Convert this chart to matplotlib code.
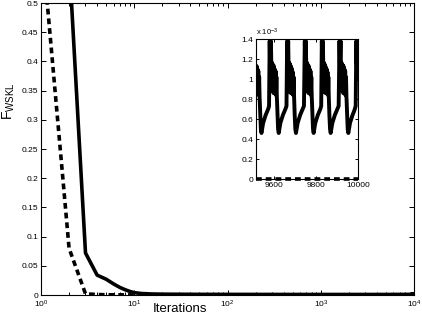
import numpy as np
import matplotlib.pyplot as plt
from matplotlib.ticker import LogLocator, FixedLocator

plt.rcParams['font.family'] = ['Liberation Sans', 'DejaVu Sans']
plt.rcParams['mathtext.default'] = 'regular'

# -------------------------
# Data
# -------------------------
# early iterations (main axes)
iters_early = [1, 2, 3, 4, 5, 6, 7, 8, 9, 10, 12, 15, 20, 30, 50,
               100, 200, 500, 1000, 2000, 5000]
solid_early = [1.35, 0.575, 0.072, 0.034, 0.027, 0.019, 0.013, 0.009,
               0.006, 0.004, 0.0025, 0.0018, 0.0014, 0.0012, 0.0011,
               0.0010, 0.0010, 0.0009, 0.0009, 0.0009, 0.0009]
dashed_early = [0.62, 0.08, 0.002, 0.0008, 0.0004, 0.0003, 0.0002,
                0.0001, 0.0001, 0.0001, 0.0, 0.0, 0.0, 0.0, 0.0,
                0.0, 0.0, 0.0, 0.0, 0.0, 0.0]

# last iterations (inset), values in units of 1e-3, one row per cycle
iters_late = [
    9515, 9516, 9518, 9520, 9522, 9524, 9526, 9528, 9530, 9532, 9535,
    9538, 9541, 9544, 9549, 9555, 9561, 9567, 9573, 9577, 9580, 9582,
    9586, 9588, 9590, 9592, 9594, 9596, 9598, 9600, 9602, 9604, 9606,
    9608, 9610, 9612, 9614, 9617, 9620, 9623, 9626, 9631, 9637, 9643,
    9649, 9655, 9660, 9663, 9665,
    9668, 9670, 9672, 9674, 9676, 9678, 9680, 9682, 9684, 9686, 9688,
    9690, 9692, 9694, 9696, 9699, 9702, 9705, 9708, 9713, 9719, 9725,
    9731, 9737, 9743, 9747, 9749,
    9752, 9754, 9756, 9758, 9760, 9762, 9764, 9766, 9768, 9770, 9772,
    9774, 9776, 9778, 9780, 9783, 9786, 9789, 9792, 9797, 9803, 9809,
    9815, 9821, 9825, 9828, 9830,
    9833, 9835, 9837, 9839, 9841, 9843, 9845, 9847, 9849, 9851, 9853,
    9855, 9857, 9859, 9861, 9864, 9867, 9870, 9873, 9878, 9884, 9890,
    9896, 9902, 9908, 9912, 9914,
    9917, 9919, 9921, 9923, 9925, 9927, 9929, 9931, 9933, 9935, 9937,
    9939, 9941, 9943, 9945, 9948, 9951, 9954, 9957, 9962, 9968, 9974,
    9980, 9985, 9989, 9992, 9994,
    9996, 9998, 10000]
solid_late = [
    1.10, 0.86, 1.13, 0.87, 1.10, 0.85, 1.08, 0.84, 1.02, 0.83, 0.65,
    0.50, 0.46, 0.50, 0.56, 0.60, 0.64, 0.67, 0.70, 0.73, 1.38, 1.15,
    1.38, 1.12, 1.00, 1.16, 0.88, 1.14, 0.86, 1.13, 0.87, 1.10, 0.85,
    1.08, 0.84, 1.02, 0.83, 0.65, 0.50, 0.46, 0.50, 0.56, 0.60, 0.64,
    0.67, 0.70, 0.73, 1.38, 1.15,
    1.38, 1.11, 1.00, 1.16, 0.87, 1.14, 0.86, 1.12, 0.87, 1.10, 0.85,
    1.07, 0.84, 1.02, 0.83, 0.64, 0.50, 0.46, 0.50, 0.56, 0.60, 0.64,
    0.67, 0.70, 0.73, 1.38, 1.15,
    1.38, 1.12, 1.00, 1.16, 0.88, 1.14, 0.86, 1.13, 0.87, 1.10, 0.85,
    1.08, 0.84, 1.02, 0.83, 0.65, 0.50, 0.46, 0.50, 0.56, 0.60, 0.64,
    0.67, 0.70, 0.73, 1.38, 1.15,
    1.38, 1.11, 1.00, 1.16, 0.87, 1.14, 0.86, 1.12, 0.87, 1.10, 0.85,
    1.07, 0.84, 1.02, 0.83, 0.64, 0.50, 0.46, 0.50, 0.56, 0.60, 0.64,
    0.67, 0.70, 0.73, 1.38, 1.15,
    1.38, 1.12, 1.00, 1.16, 0.88, 1.14, 0.86, 1.13, 0.87, 1.10, 0.85,
    1.08, 0.84, 1.02, 0.83, 0.65, 0.50, 0.46, 0.50, 0.56, 0.60, 0.64,
    0.67, 0.70, 0.73, 1.38, 1.15,
    1.38, 1.12, 1.00]
dashed_late = [0.0] * len(iters_late)

main_yticks = [0, 0.05, 0.1, 0.15, 0.2, 0.25, 0.3, 0.35, 0.4, 0.45, 0.5]
main_ylabels = ['0', '0.05', '0.1', '0.15', '0.2', '0.25', '0.3', '0.35',
                '0.4', '0.45', '0.5']
inset_yticks = [0, 0.2, 0.4, 0.6, 0.8, 1.0, 1.2, 1.4]
inset_ylabels = ['0', '0.2', '0.4', '0.6', '0.8', '1', '1.2', '1.4']
inset_xticks = [9600, 9800, 10000]

# -------------------------
# Plot
# -------------------------
fig = plt.figure(figsize=(4.22, 3.2), dpi=100)
ax = fig.add_axes([41/422, 25/320, 373/422, 292/320])

x_all = iters_early + iters_late
solid_all = solid_early + [v * 1e-3 for v in solid_late]
dashed_all = dashed_early + dashed_late

ax.plot(x_all, solid_all, color='black', lw=2.6)
ax.plot(x_all, dashed_all, color='black', lw=2.6, dashes=[1.6, 1.1])
ax.set_xscale('log')
ax.set_xlim(1, 1e4)
ax.set_ylim(0, 0.5)
ax.set_yticks(main_yticks)
ax.set_yticklabels(main_ylabels)
ax.xaxis.set_minor_locator(LogLocator(base=10, subs=np.arange(2, 10)))
ax.tick_params(which='both', direction='in', top=True, right=True,
               labelsize=6, width=0.7, pad=2)
ax.tick_params(axis='x', which='both', pad=3)
ax.tick_params(which='major', length=3.5)
ax.tick_params(which='minor', length=2)
for s in ax.spines.values():
    s.set_linewidth(0.8)

ax.set_xlabel('Iterations', fontsize=9.5)
ax.xaxis.set_label_coords((180 - 41) / 373, -0.028)
ax.set_ylabel(r'$\mathregular{F_{WSKL}}$', fontsize=10)
ax.yaxis.set_label_coords(-0.064, (295 - 101) / 292)

# inset
axi = fig.add_axes([256/422, (320-179)/320, 102/422, 140/320])
axi.plot(iters_late, solid_late, color='black', lw=2.8)
axi.plot(iters_late, dashed_late, color='black', lw=2.6,
         dashes=[1.6, 1.1], clip_on=False)
axi.set_xlim(9515, 10000)
axi.set_ylim(0, 1.4)
axi.set_yticks(inset_yticks)
axi.set_yticklabels(inset_ylabels)
axi.xaxis.set_major_locator(FixedLocator(inset_xticks))
axi.tick_params(which='both', direction='in', top=True, right=True,
                labelsize=6, width=0.7, length=2.5, pad=2)
for s in axi.spines.values():
    s.set_linewidth(0.8)
axi.text(0, 1.01, r'x $10^{-3}$', transform=axi.transAxes, fontsize=5.5,
         ha='left', va='bottom')

fig.savefig('out.png', dpi=100)
